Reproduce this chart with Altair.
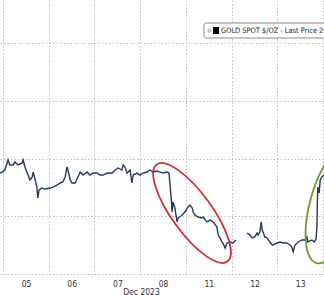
import json
import altair as alt
import pandas as pd

# Trading-day index (0 = Dec 05 start) and gold spot price ($/oz)
seg_a_t = [-0.07, -0.02, 0.04, 0.11, 0.15, 0.22, 0.26, 0.33, 0.42, 0.44, 0.48, 0.53, 0.59, 0.64, 0.66, 0.68,
           0.74, 0.76, 0.79, 0.85, 0.92, 1.03, 1.09, 1.18, 1.25, 1.31, 1.36, 1.40, 1.42, 1.47, 1.51, 1.58,
           1.64, 1.69, 1.75, 1.84, 1.90, 1.97, 2.06, 2.12, 2.19, 2.28, 2.39, 2.45, 2.52, 2.60, 2.63, 2.67,
           2.71, 2.74, 2.78, 2.82, 2.85, 2.93, 3.00, 3.06, 3.15, 3.22, 3.28, 3.37, 3.44, 3.50, 3.59, 3.63,
           3.65, 3.68, 3.70, 3.72, 3.76, 3.81, 3.83, 3.92, 3.98, 4.05, 4.09, 4.14, 4.16, 4.20, 4.27, 4.35,
           4.38, 4.46, 4.53, 4.60, 4.68, 4.71, 4.75, 4.79, 4.81, 4.86, 4.90, 4.97, 5.03, 5.10]
seg_a_p = [2030.0, 2030.7, 2032.1, 2039.1, 2035.6, 2035.6, 2037.7, 2035.6, 2037.0, 2039.1, 2034.2, 2030.0,
           2025.2, 2027.3, 2030.7, 2028.6, 2020.3, 2012.7, 2018.3, 2019.6, 2018.9, 2019.6, 2020.3, 2021.7,
           2023.1, 2023.8, 2027.3, 2034.2, 2032.1, 2025.2, 2023.1, 2023.1, 2027.3, 2030.7, 2028.6, 2030.7,
           2028.6, 2030.0, 2030.0, 2028.6, 2028.6, 2030.0, 2030.0, 2032.1, 2033.5, 2032.1, 2035.6, 2034.2,
           2030.0, 2030.7, 2032.1, 2023.1, 2028.6, 2030.0, 2028.6, 2030.0, 2030.7, 2032.1, 2030.7, 2031.4,
           2030.7, 2030.0, 2030.7, 2030.0, 2023.8, 2012.7, 2003.0, 2009.9, 2005.8, 1996.1, 1998.8, 2000.9,
           2003.0, 2006.5, 2007.8, 2005.8, 2003.0, 2000.9, 1999.5, 1998.8, 1999.5, 1996.1, 1997.4, 1996.1,
           1992.6, 1987.0, 1985.0, 1982.2, 1981.5, 1978.0, 1981.5, 1982.2, 1981.5, 1983.6]
seg_b_t = [5.34, 5.41, 5.45, 5.51, 5.56, 5.58, 5.62, 5.65, 5.67, 5.69, 5.73, 5.78, 5.84, 5.89, 5.91, 6.00,
           6.06, 6.13, 6.21, 6.28, 6.32, 6.35, 6.39, 6.46, 6.54, 6.61, 6.65, 6.67, 6.76, 6.81, 6.85, 6.87,
           6.88, 6.89, 6.92, 6.94, 6.98, 7.02]
seg_b_p = [1988.4, 1987.0, 1985.0, 1985.7, 1988.4, 1987.0, 1989.1, 1996.1, 1990.5, 1989.1, 1985.7, 1985.0,
           1982.2, 1980.1, 1980.1, 1981.5, 1982.2, 1981.5, 1981.5, 1980.1, 1978.7, 1975.3, 1980.1, 1982.2,
           1983.6, 1983.6, 1985.7, 1982.2, 1983.6, 1982.2, 1984.3, 1992.6, 2011.3, 2020.3, 2016.2, 2025.2,
           2027.3, 2028.6]

day_labels = ["05", "06", "07", "08", "11", "12", "13", ""]
day_bounds = [0, 1, 2, 3, 4, 5, 6, 7]
grid_prices = [1960, 1980, 2000, 2020, 2040, 2060, 2080, 2100, 2120, 2140]
legend_text = "GOLD SPOT $/OZ - Last Price 2027.79"

df = pd.DataFrame({
    "t": seg_a_t + seg_b_t,
    "price": seg_a_p + seg_b_p,
    "seg": ["a"] * len(seg_a_t) + ["b"] * len(seg_b_t),
})

x_scale = alt.Scale(domain=[-0.066, 7.024], nice=False, zero=False)
y_scale = alt.Scale(domain=[1960, 2150], nice=False, zero=False)

label_expr = json.dumps(day_labels) + "[datum.value]"
narrow = "Liberation Sans Narrow, DejaVu Sans Condensed, Liberation Sans"

x_axis = alt.Axis(values=day_bounds, labelExpr=label_expr, labelOffset=23, grid=True,
                  gridColor="#bdbdbd", gridDash=[1.5, 2], gridWidth=1, domain=False, ticks=False,
                  labelFontSize=8.5, labelColor="#333333", labelFont=narrow,
                  labelPadding=5, labelOverlap=False, labelBound=False, labelFlush=False,
                  title="Dec 2023", titleFontSize=8.5, titleFontWeight="normal", titleColor="#333333",
                  titleFont=narrow, titleX=141, titleY=13, titleAlign="center",
                  titleBaseline="top")
y_axis = alt.Axis(values=grid_prices, labels=False, ticks=False, domain=False, grid=True,
                  gridColor="#bdbdbd", gridDash=[1.5, 2], gridWidth=1, title=None)

base = alt.Chart(df)

line = base.mark_line(color="#22395c", strokeWidth=1.4).encode(
    x=alt.X("t:Q", scale=x_scale, axis=x_axis),
    y=alt.Y("price:Q", scale=y_scale, axis=y_axis),
    detail="seg:N",
)

ell_df = pd.DataFrame({"t": [4.136, 7.20], "price": [2002.3, 2007.8], "which": ["red", "green"]})

red_path = ("M 1 0 C 1 0.184 0.552 0.333 0 0.333 C -0.552 0.333 -1 0.184 -1 0 "
            "C -1 -0.184 -0.552 -0.333 0 -0.333 C 0.552 -0.333 1 -0.184 1 0 Z")
green_path = ("M 1 0 C 1 0.204 0.552 0.37 0 0.37 C -0.552 0.37 -1 0.204 -1 0 "
              "C -1 -0.204 -0.552 -0.37 0 -0.37 C 0.552 -0.37 1 -0.204 1 0 Z")

red_ell = alt.Chart(ell_df).transform_filter(alt.datum.which == "red").mark_point(
    shape=red_path, size=14400, angle=54, filled=False, stroke="#c9303a", strokeWidth=1.8, opacity=1
).encode(x=alt.X("t:Q", scale=x_scale), y=alt.Y("price:Q", scale=y_scale))

green_ell = alt.Chart(ell_df).transform_filter(alt.datum.which == "green").mark_point(
    shape=green_path, size=14400, angle=285, filled=False, stroke="#6b9a2e", strokeWidth=1.8, opacity=1
).encode(x=alt.X("t:Q", scale=x_scale), y=alt.Y("price:Q", scale=y_scale))

leg_df = pd.DataFrame({"label": [legend_text]})
leg_box = alt.Chart(leg_df).mark_rect(fill="white", stroke="#8a8a8a", strokeWidth=1, cornerRadius=2).encode(
    x=alt.value(204), x2=alt.value(345), y=alt.value(23), y2=alt.value(38))
leg_small = alt.Chart(leg_df).mark_rect(fill="#e6e6e6", stroke="#9a9a9a", strokeWidth=0.6).encode(
    x=alt.value(208), x2=alt.value(211), y=alt.value(29), y2=alt.value(32))
leg_sw = alt.Chart(leg_df).mark_rect(fill="#000000").encode(
    x=alt.value(213), x2=alt.value(219), y=alt.value(27), y2=alt.value(34))
leg_txt = alt.Chart(leg_df).mark_text(align="left", baseline="middle", fontSize=7.4,
                                      font=narrow, color="#222222").encode(
    x=alt.value(221), y=alt.value(31), text="label:N")

chart = alt.layer(line, red_ell, green_ell, leg_box, leg_small, leg_sw, leg_txt).properties(
    width=324, height=274, padding={"left": 0, "top": 0, "right": 0, "bottom": 21},
    autosize=alt.AutoSizeParams(type="none"),
    background="white",
).configure_view(stroke=None)

chart.save("out.html", embed_options={"renderer": "svg", "actions": False})
